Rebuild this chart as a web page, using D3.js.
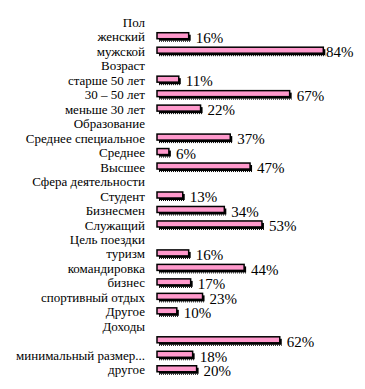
<!DOCTYPE html>
<html>
<head>
<meta charset="utf-8">
<script src="https://cdn.jsdelivr.net/npm/d3@7"></script>
<style>
  body { margin: 0; background: #fff; }
</style>
</head>
<body>
<div id="chart"></div>
<script>
// rows top to bottom; null value = group heading
var labels = ["Пол", "женский", "мужской", "Возраст", "старше 50 лет", "30 – 50 лет", "меньше 30 лет",
    "Образование", "Среднее специальное", "Среднее", "Высшее", "Сфера деятельности",
    "Студент", "Бизнесмен", "Служащий", "Цель поездки", "туризм", "командировка", "бизнес",
    "спортивный отдых", "Другое", "Доходы", "", "минимальный размер...", "другое"];
var values = [null, 16, 84, null, 11, 67, 22, null, 37, 6, 47, null, 13, 34, 53, null,
    16, 44, 17, 23, 10, null, 62, 18, 20];

var width = 365, height = 389;
var font = "'Liberation Serif', 'Times New Roman', 'DejaVu Serif', serif";

var rows = labels.map(function (l, i) { return {label: l, value: values[i], i: i}; });

var y = d3.scaleBand()
    .domain(d3.range(rows.length))
    .range([15, 377])
    .paddingInner(0.5)
    .paddingOuter(0.25);

var x = d3.scaleLinear().domain([0, 100]).range([157, 355]);

var svg = d3.select("#chart")
    .append("svg")
    .attr("width", width)
    .attr("height", height)
    .attr("font-family", font);

// category labels
svg.selectAll("text.cat")
    .data(rows)
    .enter()
    .append("text")
    .attr("class", "cat")
    .attr("x", 145)
    .attr("y", function (d) { return y(d.i) + y.bandwidth() / 2; })
    .attr("dy", "0.35em")
    .attr("text-anchor", "end")
    .attr("font-family", font)
    .attr("font-size", 13)
    .text(function (d) { return d.label; });

var bars = rows.filter(function (d) { return d.value != null; });
var bh = 6;

function barTop(d) { return y(d.i) + y.bandwidth() / 2 - bh / 2 - 1; }

// shadow
svg.selectAll("rect.shadow")
    .data(bars)
    .enter()
    .append("rect")
    .attr("x", x(0) + 2)
    .attr("y", function (d) { return barTop(d) + 2; })
    .attr("width", function (d) { return x(d.value) - x(0); })
    .attr("height", bh)
    .attr("fill", "#000");

svg.selectAll("line.hatch")
    .data(bars)
    .enter()
    .append("line")
    .attr("x1", x(0) + 2)
    .attr("x2", function (d) { return x(d.value) + 2; })
    .attr("y1", function (d) { return barTop(d) + bh + 2.5; })
    .attr("y2", function (d) { return barTop(d) + bh + 2.5; })
    .attr("stroke", "#000")
    .attr("stroke-dasharray", "1,1");

svg.selectAll("rect.bar")
    .data(bars)
    .enter()
    .append("rect")
    .attr("x", x(0))
    .attr("y", barTop)
    .attr("width", function (d) { return x(d.value) - x(0); })
    .attr("height", bh)
    .attr("fill", "#ff99cc")
    .attr("stroke", "#000")
    .attr("stroke-width", 1.5);

svg.selectAll("text.val")
    .data(bars)
    .enter()
    .append("text")
    .attr("class", "val")
    .attr("x", function (d) { return Math.min(x(d.value) + 7, 326); })
    .attr("y", function (d) { return y(d.i) + y.bandwidth() / 2 + 1; })
    .attr("dy", "0.35em")
    .attr("font-family", font)
    .attr("font-size", 15)
    .text(function (d) { return d.value + "%"; });
</script>
</body>
</html>
